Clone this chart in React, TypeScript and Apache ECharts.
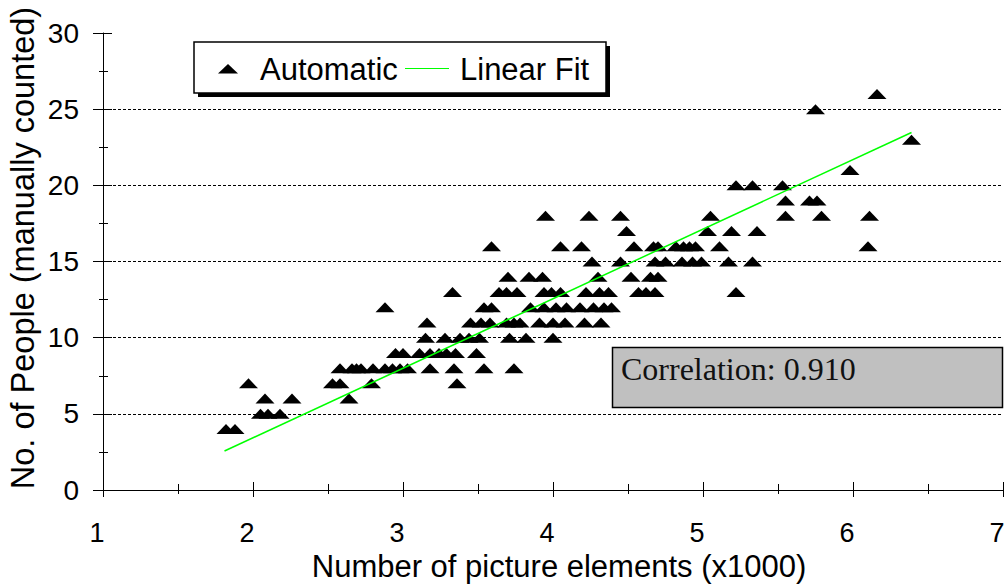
import React, { useEffect, useRef } from "react";
import * as echarts from "echarts";

// Number of picture elements (x1000) for each manually counted people level
const elementsAt4 = [1.82, 1.88];
const elementsAt5 = [2.05, 2.1, 2.18];
const elementsAt6 = [2.08, 2.26, 2.64];
const elementsAt7 = [1.97, 2.53, 2.58, 2.79, 3.36];
const elementsAt8 = [2.58, 2.66, 2.69, 2.72, 2.8, 2.88, 2.93, 2.98, 3.03, 3.18, 3.34, 3.54, 3.74];
const elementsAt9 = [2.95, 3.0, 3.11, 3.18, 3.24, 3.29, 3.35, 3.49];
const elementsAt10 = [3.15, 3.28, 3.38, 3.44, 3.51, 3.71, 3.82, 4.0];
const elementsAt11 = [3.16, 3.45, 3.52, 3.58, 3.69, 3.74, 3.78, 3.91, 4.0, 4.08, 4.21, 4.32];
const elementsAt12 = [2.88, 3.54, 3.59, 3.85, 3.94, 4.02, 4.09, 4.18, 4.27, 4.34, 4.39];
const elementsAt13 = [3.33, 3.64, 3.69, 3.76, 3.94, 3.99, 4.05, 4.22, 4.31, 4.37, 4.57, 4.62, 4.68, 5.22];
const elementsAt14 = [3.7, 3.84, 3.93, 4.3, 4.52, 4.65, 4.7];
const elementsAt15 = [4.26, 4.45, 4.68, 4.75, 4.86, 4.93, 4.99, 5.17, 5.33];
const elementsAt16 = [3.59, 4.05, 4.19, 4.54, 4.67, 4.7, 4.82, 4.87, 4.91, 4.95, 5.11, 6.1];
const elementsAt17 = [4.49, 5.03, 5.19, 5.36];
const elementsAt18 = [3.95, 4.24, 4.45, 5.05, 5.55, 5.79, 6.11];
const elementsAt19 = [5.55, 5.71, 5.76];
const elementsAt20 = [5.22, 5.33, 5.53];
const elementsAt21 = [5.98];
const elementsAt23 = [6.39];
const elementsAt25 = [5.75];
const elementsAt26 = [6.16];

const peopleLevels = [4, 5, 6, 7, 8, 9, 10, 11, 12, 13, 14, 15, 16, 17, 18, 19, 20, 21, 23, 25, 26];
const elementsByLevel = [
  elementsAt4, elementsAt5, elementsAt6, elementsAt7, elementsAt8, elementsAt9, elementsAt10,
  elementsAt11, elementsAt12, elementsAt13, elementsAt14, elementsAt15, elementsAt16, elementsAt17,
  elementsAt18, elementsAt19, elementsAt20, elementsAt21, elementsAt23, elementsAt25, elementsAt26,
];

// Linear fit end points
const fitX = [1.81, 6.39];
const fitY = [2.56, 23.47];

const seriesNames = ["Automatic", "Linear Fit"];
const xTitle = "Number of picture elements (x1000)";
const yTitle = "No. of People (manually counted)";
const correlationText = "Correlation: 0.910";

const SANS = "'Liberation Sans', Arial, sans-serif";
const SERIF = "'Liberation Serif', 'Times New Roman', serif";

function buildOption() {
  const automaticPoints: number[][] = [];
  peopleLevels.forEach((lvl, i) => {
    elementsByLevel[i].forEach((x) => automaticPoints.push([x, lvl]));
  });
  const fitPoints = fitX.map((x, i) => [x, fitY[i]]);
  const black = "#000";

  return {
    animation: false,
    backgroundColor: "#fff",
    textStyle: { fontFamily: SANS },
    grid: { left: 103, right: 5, top: 33, bottom: 95, containLabel: false, outerBoundsMode: "none" },
    xAxis: [
      {
        type: "value", min: 1, max: 7, interval: 1, position: "bottom", offset: 0,
        axisLine: { show: true, onZero: false, lineStyle: { color: black, width: 1 } },
        axisTick: { show: true, inside: false, length: 7, lineStyle: { color: black } },
        minorTick: { show: true, splitNumber: 2, length: 4, lineStyle: { color: black } },
        axisLabel: { color: black, fontSize: 27, fontFamily: SANS, margin: 29, padding: [0, 12, 0, 0] },
        splitLine: { show: false },
        minorSplitLine: { show: false },
      },
      {
        type: "value", min: 1, max: 7, interval: 1, position: "bottom", offset: 0,
        axisLine: { show: false, onZero: false },
        axisTick: { show: true, inside: true, length: 8, lineStyle: { color: black } },
        minorTick: { show: true, splitNumber: 2, length: 6, lineStyle: { color: black } },
        axisLabel: { show: false },
        splitLine: { show: false },
      },
    ],
    yAxis: [
      {
        type: "value", min: 0, max: 30, interval: 5, position: "left", offset: 0,
        axisLine: { show: true, onZero: false, lineStyle: { color: black, width: 1 } },
        axisTick: { show: true, inside: false, length: 10, lineStyle: { color: black } },
        minorTick: { show: true, splitNumber: 2, length: 4, lineStyle: { color: black } },
        axisLabel: { color: black, fontSize: 28, fontFamily: SANS, margin: 24 },
        splitLine: {
          show: true, showMinLine: false, showMaxLine: false,
          lineStyle: { color: black, width: 1, type: [3, 2] },
        },
        minorSplitLine: { show: false },
      },
      {
        type: "value", min: 0, max: 30, interval: 5, position: "left", offset: 0,
        axisLine: { show: false, onZero: false },
        axisTick: { show: true, inside: true, length: 9, lineStyle: { color: black } },
        minorTick: { show: true, splitNumber: 2, length: 5, lineStyle: { color: black } },
        axisLabel: { show: false },
        splitLine: { show: false },
      },
    ],
    series: [
      {
        name: seriesNames[0], type: "scatter", xAxisIndex: 0, yAxisIndex: 0,
        symbol: "triangle", symbolSize: [19, 10],
        itemStyle: { color: black, opacity: 1 },
        data: automaticPoints, z: 3,
      },
      {
        name: seriesNames[1], type: "line", xAxisIndex: 0, yAxisIndex: 0,
        symbol: "none", showSymbol: false,
        lineStyle: { color: "#00ff00", width: 1.5 },
        data: fitPoints, z: 4,
      },
    ],
    graphic: [
      // axis titles
      {
        type: "text", x: 559, y: 566, z: 10,
        style: { text: xTitle, fontSize: 31, fontFamily: SANS, fill: black, align: "center", verticalAlign: "middle" },
      },
      {
        type: "text", x: 23, y: 248, rotation: Math.PI / 2, z: 10,
        style: { text: yTitle, fontSize: 32.5, fontFamily: SANS, fill: black, align: "center", verticalAlign: "middle" },
      },
      // legend
      { type: "rect", z: 10, shape: { x: 198, y: 46, width: 412, height: 51 }, style: { fill: black } },
      {
        type: "rect", z: 11, shape: { x: 194, y: 42, width: 412, height: 51 },
        style: { fill: "#fff", stroke: black, lineWidth: 1.5 },
      },
      {
        type: "polygon", z: 12, shape: { points: [[218, 73.5], [228, 64], [238, 73.5]] },
        style: { fill: black },
      },
      {
        type: "text", x: 260, y: 69, z: 12,
        style: { text: seriesNames[0], fontSize: 31, fontFamily: SANS, fill: black, align: "left", verticalAlign: "middle" },
      },
      {
        type: "line", z: 12, shape: { x1: 405, y1: 68.5, x2: 449, y2: 68.5 },
        style: { stroke: "#00ff00", lineWidth: 1 },
      },
      {
        type: "text", x: 460, y: 69, z: 12,
        style: { text: seriesNames[1], fontSize: 31, fontFamily: SANS, fill: black, align: "left", verticalAlign: "middle" },
      },
      // correlation box
      {
        type: "rect", z: 10, shape: { x: 612.5, y: 347.5, width: 390, height: 60 },
        style: { fill: "#c0c0c0", stroke: black, lineWidth: 1.5 },
      },
      {
        type: "text", x: 621, y: 369, z: 11,
        style: { text: correlationText, fontSize: 32, fontFamily: SERIF, fill: "#111", align: "left", verticalAlign: "middle" },
      },
    ],
  };
}

export default function App() {
  const ref = useRef<HTMLDivElement>(null);
  useEffect(() => {
    if (!ref.current) return;
    const chart = echarts.init(ref.current, null, { renderer: "svg" });
    chart.setOption(buildOption() as any);
    return () => chart.dispose();
  }, []);
  return (
    <div
      ref={ref}
      style={{ position: "fixed", left: 0, top: 0, width: 1008, height: 585, background: "#fff" }}
    />
  );
}
